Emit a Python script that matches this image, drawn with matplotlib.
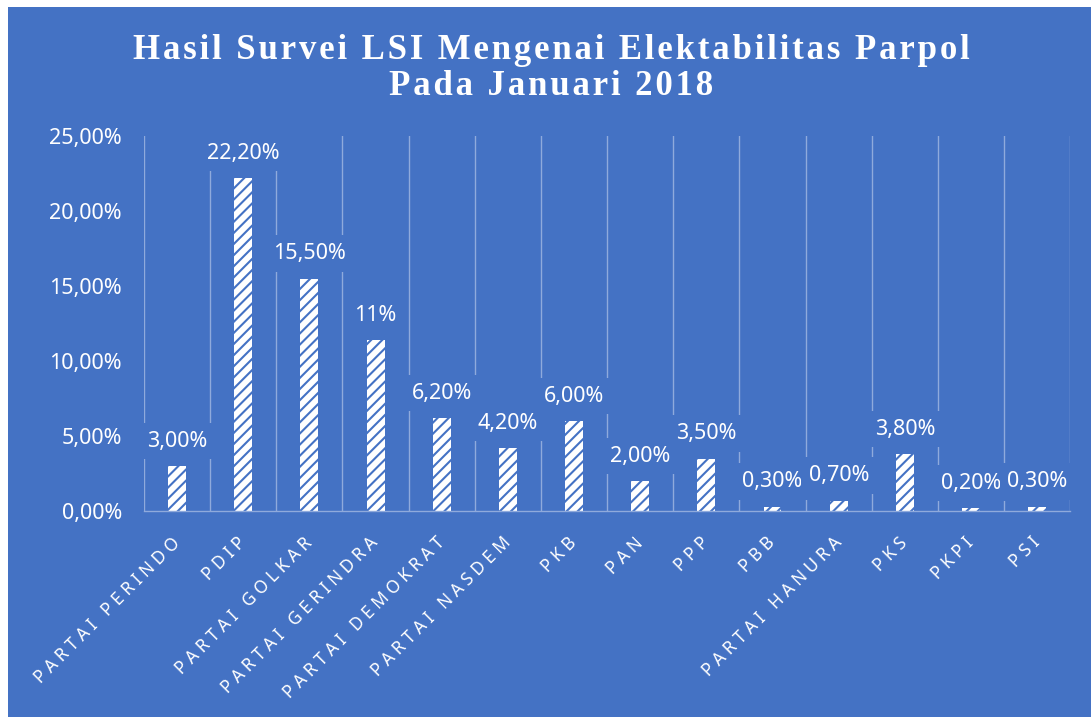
import matplotlib.pyplot as plt
import matplotlib.patches as mpatches
from matplotlib.ticker import FuncFormatter

# data
parties = ["PARTAI PERINDO", "PDIP", "PARTAI GOLKAR", "PARTAI GERINDRA",
           "PARTAI DEMOKRAT", "PARTAI NASDEM", "PKB", "PAN", "PPP", "PBB",
           "PARTAI HANURA", "PKS", "PKPI", "PSI"]
values = [3.0, 22.2, 15.5, 11.4, 6.2, 4.2, 6.0, 2.0, 3.5, 0.3, 0.7, 3.8, 0.2, 0.3]
value_labels = ["3,00%", "22,20%", "15,50%", "11%", "6,20%", "4,20%", "6,00%",
                "2,00%", "3,50%", "0,30%", "0,70%", "3,80%", "0,20%", "0,30%"]
yticks = [0, 5, 10, 15, 20, 25]

BLUE = "#4472C4"
GRID = "#8FAADC"

plt.rcParams["hatch.linewidth"] = 1.5
plt.rcParams["font.family"] = ["Noto Sans", "DejaVu Sans"]

fig = plt.figure(figsize=(10.91, 7.17), dpi=100, facecolor="white")
# blue chart area (white strip on top and left like the screenshot)
fig.patches.append(mpatches.Rectangle((8 / 1091, 0), 1, (717 - 7) / 717,
                                      transform=fig.transFigure,
                                      facecolor=BLUE, edgecolor="none", zorder=-5))

ax = fig.add_axes([0.132, 0.2873, 0.849, 0.523])
ax.set_facecolor(BLUE)
ax.patch.set_alpha(0)

x = list(range(len(parties)))
ax.bar(x, values, width=0.27, facecolor="white", edgecolor=BLUE,
       hatch="///", linewidth=0, zorder=2)

for xi, v, lab in zip(x, values, value_labels):
    ax.annotate(lab, (xi, v), xytext=(0, 18), textcoords="offset points",
                ha="center", va="center", color="white", fontsize=15.5,
                bbox=dict(boxstyle="square,pad=0.35", facecolor=BLUE,
                          edgecolor="none"), zorder=3)

ax.set_xlim(-0.5, len(parties) - 0.5)
ax.set_ylim(0, 25)
ax.set_yticks(yticks)
ax.yaxis.set_major_formatter(FuncFormatter(lambda v, p: f"{v:.2f}%".replace(".", ",")))

# vertical gridlines at category boundaries
ax.set_xticks([i - 0.5 for i in range(len(parties) + 1)], minor=True)
ax.grid(True, which="minor", axis="x", color=GRID, linewidth=1)
ax.set_axisbelow(True)

spaced = ["   ".join(" ".join(w) for w in p.split(" ")) for p in parties]
ax.set_xticks(x)
ax.set_xticklabels(spaced, rotation=45, ha="right", va="center",
                   rotation_mode="anchor", fontsize=12.5)

ax.tick_params(axis="both", which="both", length=0, colors="white")
ax.tick_params(axis="x", pad=21)
ax.tick_params(axis="y", labelsize=15.5, pad=16)

for s in ["top", "right", "left"]:
    ax.spines[s].set_visible(False)
ax.spines["bottom"].set_color(GRID)
ax.spines["bottom"].set_linewidth(1)


def spread(s):
    return "\u200a".join(s)


title_font = dict(ha="center", va="center", color="white", fontsize=25,
                  fontweight="bold", family=["Liberation Serif", "DejaVu Serif"])
fig.text(0.505, 0.929, spread("Hasil Survei LSI Mengenai Elektabilitas Parpol"),
         **title_font)
fig.text(0.505, 0.880, spread("Pada Januari 2018"), **title_font)

fig.savefig("out.png", dpi=100, facecolor="white")
